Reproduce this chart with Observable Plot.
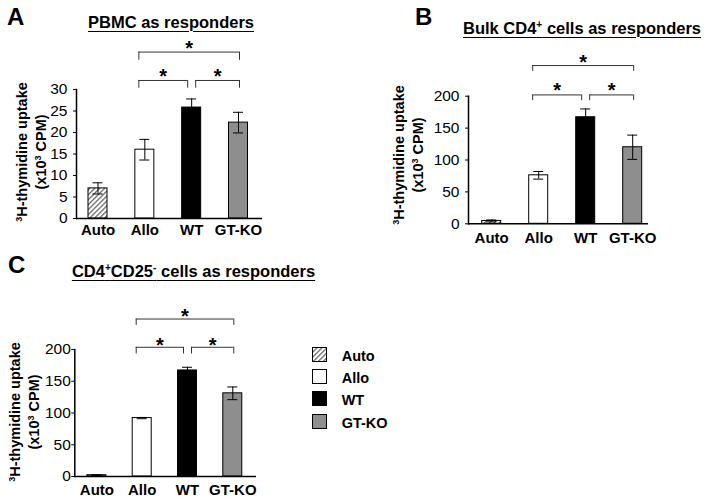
<!DOCTYPE html>
<html><head><meta charset="utf-8">
<script src="https://cdn.jsdelivr.net/npm/d3@7"></script>
<script src="https://cdn.jsdelivr.net/npm/@observablehq/plot@0.6"></script>
<style>
html,body{margin:0;padding:0;background:#fff;}
#root{position:relative;width:708px;height:503px;overflow:hidden;font-family:"Liberation Sans",Arial,sans-serif;color:#000;}
.title{position:absolute;font-weight:bold;font-size:16.5px;line-height:16px;white-space:nowrap;transform:translateX(-50%);text-decoration:underline;text-underline-offset:3px;text-decoration-thickness:1.3px;}
.letter{position:absolute;font-weight:bold;font-size:24px;line-height:22px;}
.ylab{position:absolute;font-weight:bold;font-size:14.5px;line-height:19px;white-space:nowrap;text-align:center;transform:translate(-50%,-50%) rotate(-90deg);}
sup{font-size:0.62em;line-height:0;vertical-align:0.55em;}
.lrow{position:absolute;display:flex;align-items:center;font-weight:bold;font-size:14.5px;line-height:15px;}
.lrow span{position:relative;top:2px;margin-left:15px;}
.lrow svg{display:block;}
</style></head>
<body>
<svg width="0" height="0" style="position:absolute">
<defs><pattern id="hatch" patternUnits="userSpaceOnUse" width="3.5" height="3.5" patternTransform="rotate(45)">
<rect width="3.5" height="3.5" fill="#fff"/><line x1="0.6" y1="0" x2="0.6" y2="3.5" stroke="#5a5a5a" stroke-width="1.2"/></pattern></defs></svg>
<div id="root"></div>
<script>
// ---- data ----
const categories = ["Auto", "Allo", "WT", "GT-KO"];
const pbmcMean = [7.0, 16.0, 25.8, 22.3];
const pbmcErr  = [1.3, 2.4, 2.0, 2.4];
const bulkMean = [4.5, 76, 167, 120];
const bulkErr  = [1.5, 6, 13, 19];
const cd25Mean = [2, 92, 167, 131];
const cd25Err  = [0.6, 1, 5, 10];
const pbmcTicks = [0, 5, 10, 15, 20, 25, 30];
const cpmTicks = [0, 50, 100, 150, 200];
const pbmcBrackets = [
  {from: "Allo", to: "WT", top: 32.1, drop: 30.3, star: 34.2},
  {from: "WT", to: "GT-KO", top: 32.1, drop: 30.3, star: 34.2},
  {from: "Allo", to: "GT-KO", top: 38.7, drop: 36.8, star: 40.7}
];
const bulkBrackets = [
  {from: "Allo", to: "WT", top: 202, drop: 193, star: 216.5},
  {from: "WT", to: "GT-KO", top: 202, drop: 193, star: 216.5},
  {from: "Allo", to: "GT-KO", top: 248, drop: 239, star: 261}
];
const cd25Brackets = [
  {from: "Allo", to: "WT", top: 203.5, drop: 193, star: 214},
  {from: "WT", to: "GT-KO", top: 203.5, drop: 193, star: 214},
  {from: "Allo", to: "GT-KO", top: 248, drop: 238, star: 260}
];

// ---- style ----
const fills = ["url(#hatch)", "#ffffff", "#000000", "#8e8e8e"];
const bracketShift = [[-6, -4], [4, 1], [-6, 1]];
const FONT = "Liberation Sans, Arial, sans-serif";
const root = document.getElementById("root");

function panel(o) {
  const data = categories.map((c, i) => ({c, i, v: o.means[i], e: o.errs[i]}));
  const step = (o.xr[1] - o.xr[0]) / (categories.length - 1);
  const barInset = (step - 19) / 2;
  const capInset = (step - 10) / 2;
  const idx = c => categories.indexOf(c);
  const bmarks = [];
  o.brackets.forEach((b0, k) => {
    const b = {...b0, from: idx(b0.from), to: idx(b0.to)};
    const [l, r] = bracketShift[k];
    bmarks.push(
      Plot.ruleY([b], {y: "top", x1: "from", x2: "to", insetLeft: l, insetRight: -r, stroke: "#333", strokeWidth: 1}),
      Plot.ruleX([b], {x: "from", y1: "drop", y2: "top", dx: l, stroke: "#333", strokeWidth: 1}),
      Plot.ruleX([b], {x: "to", y1: "drop", y2: "top", dx: r, stroke: "#333", strokeWidth: 1}),
      Plot.text([b], {x: d => (d.from + d.to) / 2, y: "star", text: () => "*", dx: (l + r) / 2, dy: 5, fontSize: 20, fontWeight: "bold", fill: "#000"})
    );
  });
  const svg = Plot.plot({
    width: o.width, height: o.height,
    marginTop: o.mt, marginBottom: o.mb, marginLeft: o.ml, marginRight: o.mr,
    x: {domain: [0, categories.length - 1], range: o.xr},
    y: {domain: [0, o.yMax]},
    color: {domain: categories, range: fills},
    style: {fontFamily: FONT, fontSize: "14px", background: "transparent", color: "#000", overflow: "visible"},
    marks: [
      Plot.rect(data, {x1: d => d.i - 0.5, x2: d => d.i + 0.5, y1: () => 0, y2: "v", fill: "c", stroke: "#000", strokeWidth: 1, insetLeft: barInset, insetRight: barInset}),
      Plot.ruleX(data, {x: "i", y1: d => d.v - d.e, y2: d => d.v + d.e, stroke: "#000", strokeWidth: 1}),
      Plot.ruleY(data, {y: d => d.v + d.e, x1: d => d.i - 0.5, x2: d => d.i + 0.5, insetLeft: capInset, insetRight: capInset, stroke: "#000", strokeWidth: 1}),
      Plot.ruleY(data, {y: d => d.v - d.e, x1: d => d.i - 0.5, x2: d => d.i + 0.5, insetLeft: capInset, insetRight: capInset, stroke: "#000", strokeWidth: 1}),
      Plot.ruleY([0], {stroke: "#000", strokeWidth: 1.5}),
      Plot.frame({anchor: "left", stroke: "#000", strokeWidth: 1.5}),
      Plot.axisY({ticks: o.ticks, tickSize: 3, tickPadding: o.yPad, fontSize: 15.5, label: null}),
      Plot.axisX({ticks: categories.map((c, i) => i), tickFormat: i => categories[i], tickSize: 0, tickPadding: o.xPad, fontSize: 15, fontWeight: "bold", label: null}),
      ...bmarks
    ]
  });
  svg.style.position = "absolute";
  svg.style.left = o.left + "px";
  svg.style.top = o.top + "px";
  root.appendChild(svg);
}

panel({means: pbmcMean, errs: pbmcErr, ticks: pbmcTicks, yMax: 30, brackets: pbmcBrackets,
  width: 340, height: 250, mt: 89, mb: 32, ml: 76, mr: 78, xr: [97.5, 238], yPad: 6, xPad: 6, left: 0, top: 0});
panel({means: bulkMean, errs: bulkErr, ticks: cpmTicks, yMax: 200, brackets: bulkBrackets,
  width: 348, height: 260, mt: 95.7, mb: 36.7, ml: 108, mr: 60, xr: [131.2, 272.2], yPad: 6, xPad: 9, left: 360, top: 0});
panel({means: cd25Mean, errs: cd25Err, ticks: cpmTicks, yMax: 200, brackets: cd25Brackets,
  width: 340, height: 253, mt: 99, mb: 27, ml: 74.3, mr: 84, xr: [96.4, 232.3], yPad: 1, xPad: 8, left: 0, top: 250});

// ---- text ----
function add(cls, html, css) {
  const d = document.createElement("div");
  d.className = cls; d.innerHTML = html;
  Object.assign(d.style, css);
  root.appendChild(d);
}
add("letter", "A", {left: "7px", top: "5.5px"});
add("letter", "B", {left: "415px", top: "5.5px"});
add("letter", "C", {left: "8px", top: "253.5px"});
add("title", "PBMC as responders", {left: "171px", top: "13.5px"});
add("title", "Bulk CD4<sup>+</sup> cells as responders", {left: "582px", top: "19.8px"});
add("title", "CD4<sup>+</sup>CD25<sup>-</sup> cells as responders", {left: "193.5px", top: "263.2px"});
const ylab = "<sup>3</sup>H-thymidine uptake<br>(x10<sup>3</sup> CPM)";
add("ylab", ylab, {left: "32px", top: "152px"});
add("ylab", ylab, {left: "409px", top: "155px"});
add("ylab", ylab, {left: "25px", top: "412px"});

// legend
categories.forEach((c, i) => {
  const row = document.createElement("div");
  row.className = "lrow";
  row.style.left = "311.7px";
  row.style.top = (347 + i * 22.2) + "px";
  row.innerHTML = `<svg width="15" height="15"><rect x="0.5" y="0.5" width="14" height="14" fill="${fills[i]}" stroke="#000" stroke-width="1"/></svg><span>${c}</span>`;
  root.appendChild(row);
});
</script>
</body></html>
